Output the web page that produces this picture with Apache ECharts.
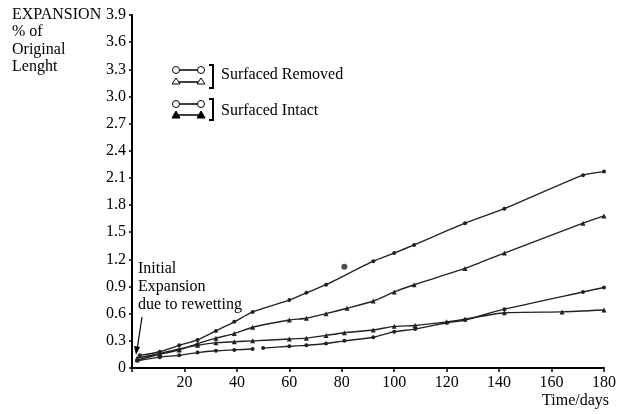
<!DOCTYPE html>
<html><head><meta charset="utf-8">
<script src="https://cdn.jsdelivr.net/npm/echarts@6/dist/echarts.min.js"></script>
<style>html,body{margin:0;padding:0;background:#fff}#c{width:619px;height:414px}</style>
</head><body><div id="c"></div>
<script>
// Data
var removedCircleDays = [3, 10.6, 18, 25, 32, 39, 46, 60, 66.5, 74, 92, 100, 107.6, 127, 142, 172, 180];
var removedCircleVals = [0.14, 0.18, 0.25, 0.31, 0.41, 0.51, 0.62, 0.75, 0.83, 0.92, 1.18, 1.27, 1.36, 1.60, 1.76, 2.13, 2.17];

var intactTriDays = [2, 10.6, 18, 25, 32, 39, 46, 60, 66.5, 74, 82, 92, 100, 107.6, 127, 142, 172, 180];
var intactTriVals = [0.09, 0.15, 0.20, 0.27, 0.33, 0.38, 0.45, 0.53, 0.55, 0.60, 0.66, 0.74, 0.84, 0.92, 1.10, 1.27, 1.60, 1.68];

var intactCircleDays = [2, 10.6, 18, 25, 32, 39, 46, 48, 50, 60, 66.5, 74, 81, 92, 100, 108, 120, 127, 142, 172, 180];
var intactCircleVals = [0.08, 0.12, 0.14, 0.17, 0.19, 0.20, 0.21, null, 0.22, 0.24, 0.25, 0.27, 0.30, 0.34, 0.40, 0.43, 0.50, 0.53, 0.65, 0.84, 0.89];

var removedTriDays = [2, 10.6, 18, 25, 32, 39, 46, 60, 66.5, 74, 81, 92, 100, 108, 120, 127, 142, 164, 180];
var removedTriVals = [0.11, 0.16, 0.21, 0.25, 0.28, 0.29, 0.30, 0.32, 0.33, 0.36, 0.39, 0.42, 0.46, 0.47, 0.51, 0.54, 0.61, 0.62, 0.64];

var outlierDays = [81];
var outlierVals = [1.12];

var xTicks = [20, 40, 60, 80, 100, 120, 140, 160, 180];

function pairs(d, v) { return d.map(function (x, i) { return [x, v[i]]; }); }

var FONT = '"Liberation Serif", "DejaVu Serif", serif';
var chart = echarts.init(document.getElementById('c'));

function lineSeries(name, d, v, sym, size) {
  return {
    name: name, type: 'line', data: pairs(d, v), smooth: 0.2,
    symbol: sym, symbolSize: size, showSymbol: true, connectNulls: false,
    lineStyle: { color: '#222', width: 1.4 },
    itemStyle: { color: '#222' }, animation: false, z: 3
  };
}

chart.setOption({
  animation: false,
  grid: { left: 132, right: 12, top: 15, bottom: 46 },
  xAxis: {
    type: 'value', min: 0, max: 180, interval: 20,
    axisLine: { show: true, lineStyle: { color: '#000', width: 2 } },
    axisTick: { show: true, length: 4, lineStyle: { color: '#000', width: 1.5 } },
    axisLabel: {
      color: '#000', fontFamily: FONT, fontSize: 16, margin: 7,
      formatter: function (v) { return xTicks.indexOf(v) >= 0 ? String(v) : ''; }
    },
    splitLine: { show: false }
  },
  yAxis: {
    type: 'value', min: 0, max: 3.9, interval: 0.3,
    axisLine: { show: true, lineStyle: { color: '#000', width: 2 } },
    axisTick: { show: true, length: 3, lineStyle: { color: '#000', width: 1.5 } },
    axisLabel: {
      color: '#000', fontFamily: FONT, fontSize: 16, margin: 6,
      formatter: function (v) { return Math.abs(v) < 1e-9 ? '0' : v.toFixed(1); }
    },
    splitLine: { show: false }
  },
  series: [
    lineSeries('Surfaced Removed (circle)', removedCircleDays, removedCircleVals, 'circle', 4),
    lineSeries('Surfaced Intact (triangle)', intactTriDays, intactTriVals, 'triangle', 5),
    lineSeries('Surfaced Intact (circle)', intactCircleDays, intactCircleVals, 'circle', 4),
    lineSeries('Surfaced Removed (triangle)', removedTriDays, removedTriVals, 'triangle', 5),
    {
      name: 'outlier', type: 'scatter', data: pairs(outlierDays, outlierVals),
      symbol: 'circle', symbolSize: 6, itemStyle: { color: '#222' }, z: 4
    }
  ],
  graphic: [
    { type: 'text', left: 12, top: 6, style: { text: 'EXPANSION\n% of\nOriginal\nLenght', font: '16px ' + FONT, fill: '#000', lineHeight: 17.5 } },
    { type: 'text', right: 10, top: 393, style: { text: 'Time/days', font: '16px ' + FONT, fill: '#000' } },
    { type: 'text', left: 138, top: 260, style: { text: 'Initial\nExpansion\ndue to rewetting', font: '16px ' + FONT, fill: '#000', lineHeight: 18 } },
    // arrow
    { type: 'line', shape: { x1: 142, y1: 317, x2: 137, y2: 350 }, style: { stroke: '#000', lineWidth: 1.2 } },
    { type: 'polygon', shape: { points: [[134, 346], [140, 347], [136, 355]] }, style: { fill: '#000' } },
    // legend group 1: Surfaced Removed (open circle, open triangle)
    { type: 'line', shape: { x1: 176, y1: 70, x2: 200, y2: 70 }, style: { stroke: '#000', lineWidth: 1.5 } },
    { type: 'circle', shape: { cx: 176, cy: 70, r: 3.5 }, style: { fill: '#fff', stroke: '#000', lineWidth: 1 } },
    { type: 'circle', shape: { cx: 201, cy: 70, r: 3.5 }, style: { fill: '#fff', stroke: '#000', lineWidth: 1 } },
    { type: 'line', shape: { x1: 176, y1: 82, x2: 200, y2: 82 }, style: { stroke: '#000', lineWidth: 1.5 } },
    { type: 'polygon', shape: { points: [[172, 84], [180, 84], [176, 78]] }, style: { fill: '#fff', stroke: '#000', lineWidth: 1 } },
    { type: 'polygon', shape: { points: [[197, 84], [205, 84], [201, 78]] }, style: { fill: '#fff', stroke: '#000', lineWidth: 1 } },
    { type: 'polyline', shape: { points: [[209, 65], [213, 65], [213, 88], [209, 88]] }, style: { stroke: '#000', lineWidth: 2, fill: null } },
    { type: 'text', left: 221, top: 67, style: { text: 'Surfaced Removed', font: '16px ' + FONT, fill: '#000' } },
    // legend group 2: Surfaced Intact (open circle, filled triangle)
    { type: 'line', shape: { x1: 176, y1: 104, x2: 200, y2: 104 }, style: { stroke: '#000', lineWidth: 1.5 } },
    { type: 'circle', shape: { cx: 176, cy: 104, r: 3.5 }, style: { fill: '#fff', stroke: '#000', lineWidth: 1 } },
    { type: 'circle', shape: { cx: 201, cy: 104, r: 3.5 }, style: { fill: '#fff', stroke: '#000', lineWidth: 1 } },
    { type: 'line', shape: { x1: 176, y1: 115, x2: 200, y2: 115 }, style: { stroke: '#000', lineWidth: 1.5 } },
    { type: 'polygon', shape: { points: [[172, 118], [180, 118], [176, 111]] }, style: { fill: '#000', stroke: '#000', lineWidth: 1 } },
    { type: 'polygon', shape: { points: [[197, 118], [205, 118], [201, 111]] }, style: { fill: '#000', stroke: '#000', lineWidth: 1 } },
    { type: 'polyline', shape: { points: [[209, 99], [213, 99], [213, 120], [209, 120]] }, style: { stroke: '#000', lineWidth: 2, fill: null } },
    { type: 'text', left: 221, top: 103, style: { text: 'Surfaced Intact', font: '16px ' + FONT, fill: '#000' } }
  ]
});
</script></body></html>
